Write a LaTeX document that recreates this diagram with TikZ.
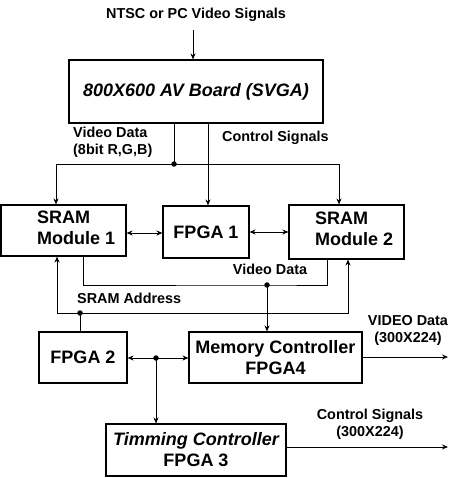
\documentclass[tikz,border=0pt]{standalone}
\usepackage{fontspec}
\setmainfont{Liberation Sans}
\usetikzlibrary{arrows.meta}
\begin{document}
\begin{tikzpicture}[x=1pt,y=-1pt,
  box/.style={draw, line width=1.1pt, inner sep=0pt, font=\fontsize{18}{21}\selectfont\bfseries, align=center},
  btxt/.style={font=\fontsize{18}{21}\selectfont\bfseries, align=left, inner sep=0pt},
  lbl/.style={font=\fontsize{14.4}{17}\selectfont\bfseries, inner sep=0pt},
  wire/.style={line width=0.9pt},
  arr/.style={wire, -{Stealth[length=6pt,width=5pt]}},
  barr/.style={wire, {Stealth[length=6pt,width=5pt]}-{Stealth[length=6pt,width=5pt]}},
  dot/.style={circle, fill, inner sep=0pt, minimum size=5.5pt},
]
\useasboundingbox (0,0) rectangle (450,478);

% boxes
\node[box, minimum width=254pt, minimum height=63pt] (av) at (196,91.5) {\itshape 800X600 AV Board (SVGA)};
\node[box, minimum width=125pt, minimum height=51pt] (s1) at (63.5,230.5) {};
\node[btxt, anchor=west] (s1t) at (37,228) {SRAM\\Module 1};
\node[box, minimum width=86pt, minimum height=52pt] (f1) at (206,232) {FPGA 1};
\node[box, minimum width=115pt, minimum height=54pt] (s2) at (346.5,232) {};
\node[btxt, anchor=west] (s2t) at (315,229) {SRAM\\Module 2};
\node[box, minimum width=88pt, minimum height=51pt] (f2) at (83,357.5) {FPGA 2};
\node[box, minimum width=173pt, minimum height=51pt] (mc) at (275.5,357.5) {Memory Controller\\FPGA4};
\node[box, minimum width=180pt, minimum height=52pt] (tc) at (196,450) {{\itshape Timming Controller}\\FPGA 3};

% labels
\node[lbl] (ttl) at (196,15) {NTSC or PC Video Signals};
\node[lbl, anchor=north west, align=left] (vdl) at (73,127) {Video Data\\(8bit R,G,B)};
\node[lbl, anchor=west] (csl) at (222,138) {Control Signals};
\node[lbl] (vdm) at (270,269) {Video Data};
\node[lbl, anchor=west] (sal) at (77,298) {SRAM Address};
\node[lbl, align=center] (vdo) at (408,330) {VIDEO Data\\(300X224)};
\node[lbl, align=center] (cso) at (370,424) {Control Signals\\(300X224)};

% junctions
\node[dot] (jv) at (174,164) {};
\node[dot] (jd) at (267,285) {};
\node[dot] (ja) at (80,313) {};
\node[dot] (jt) at (156,358) {};
\coordinate (tin) at (193,30);
\coordinate (ov) at (448,357);
\coordinate (ot) at (448,447);

% connectors
\draw[arr] (tin) -- (tin |- av.north);
\draw[wire] (av.south -| jv) -- (jv.center);
\draw[arr] (jv.center) -| (s1.north -| 56,0);
\draw[arr] (jv.center) -| (s2.north -| 339,0);
\draw[arr] (av.south -| 208,0) -- (f1.north -| 208,0);
\draw[barr] (s1.east |- 0,233) -- (f1.west |- 0,233);
\draw[barr] (f1.east |- 0,232) -- (s2.west |- 0,232);
\draw[wire] (s1.south -| 83,0) |- (jd.center) -| (s2.south -| 327,0);
\draw[arr] (jd.center) -- (mc.north -| jd);
\draw[arr] (ja.center) -| (s1.south -| 57,0);
\draw[arr] (ja.center) -| (s2.south -| 348,0);
\draw[wire] (f2.north -| ja) -- (ja.center);
\draw[barr] (f2.east |- 0,358) -- (mc.west |- 0,358);
\draw[arr] (jt.center) -- (tc.north -| jt);
\draw[arr] (mc.east |- ov) -- (ov);
\draw[arr] (tc.east |- ot) -- (ot);
\end{tikzpicture}
\end{document}
